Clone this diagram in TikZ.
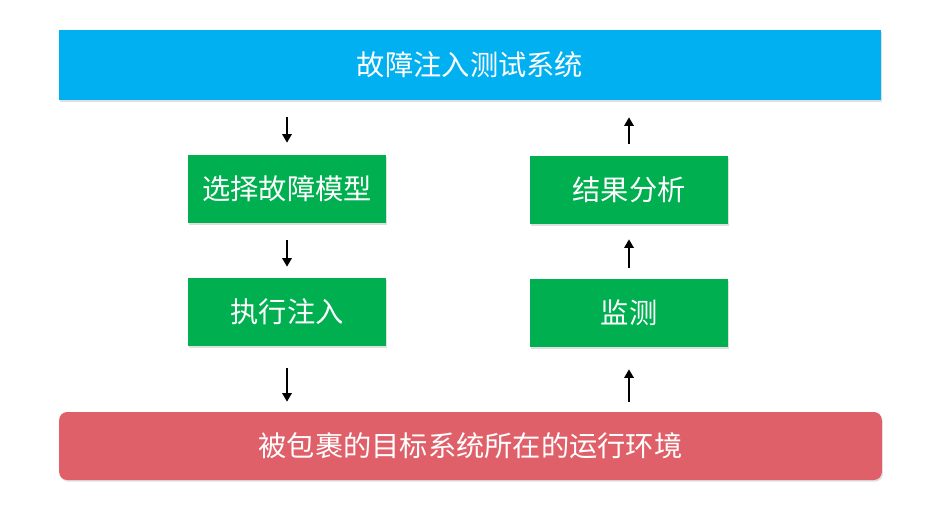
\documentclass[tikz,border=0pt]{standalone}
\usepackage{fontspec}
\setmainfont{Noto Sans CJK SC}
\usetikzlibrary{arrows.meta,shadows}
\definecolor{topblue}{HTML}{00B0F0}
\definecolor{boxgreen}{HTML}{00B050}
\definecolor{envred}{HTML}{E0606A}
\tikzset{
  px/.style={x=0.75pt,y=-0.75pt},
  boxbase/.style={draw=none,text=white,font=\fontsize{21.2pt}{24pt}\selectfont,inner sep=0pt,
    drop shadow={opacity=0.25,shadow xshift=0.8pt,shadow yshift=-1.2pt}},
  topbox/.style={boxbase,fill=topblue,minimum width=616.5pt,minimum height=52.5pt},
  stepbox/.style={boxbase,fill=boxgreen,minimum width=148.5pt,minimum height=51pt},
  envbox/.style={boxbase,fill=envred,rounded corners=6pt,minimum width=617pt,minimum height=51pt},
  arr/.style={-{Triangle[length=6.5pt,width=7pt]},line width=1.7pt,black}
}
\begin{document}
\begin{tikzpicture}[px]
\useasboundingbox[fill=white] (0,0) rectangle (944,508);
\node[topbox] (sys) at (470,65) {故障注入测试系统};
\node[stepbox] (sel) at (287,189) {选择故障模型};
\node[stepbox] (exe) at (287,312) {执行注入};
\node[stepbox] (res) at (629,190) {结果分析};
\node[stepbox] (mon) at (629,313) {监测};
\node[envbox] (env) at (470.5,446) {被包裹的目标系统所在的运行环境};
\draw[arr,shorten <=12.75pt,shorten >=9pt] (sel.north |- sys.south) -- (sel.north);
\draw[arr,shorten <=12.75pt,shorten >=8.25pt] (sel.south) -- (exe.north);
\draw[arr,shorten <=16.5pt,shorten >=7.5pt] (exe.south) -- (exe.south |- env.north);
\draw[arr,shorten <=7.5pt,shorten >=16.5pt] (mon.south |- env.north) -- (mon.south);
\draw[arr,shorten <=8.25pt,shorten >=11.25pt] (mon.north) -- (res.south);
\draw[arr,shorten <=9pt,shorten >=12.75pt] (res.north) -- (res.north |- sys.south);
\end{tikzpicture}
\end{document}
